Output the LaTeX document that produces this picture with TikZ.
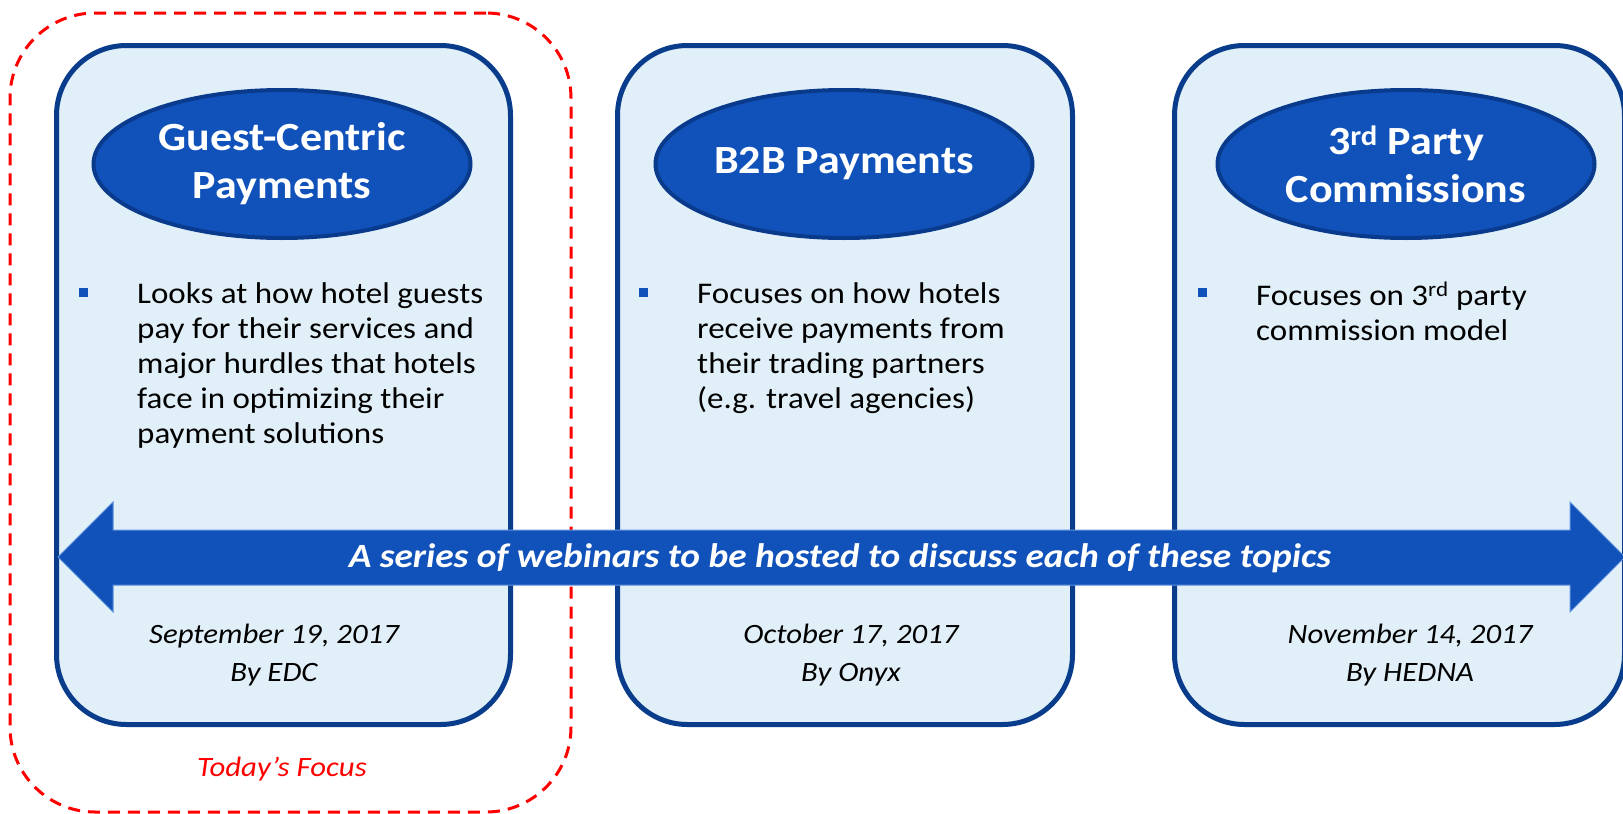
\documentclass[tikz,border=0pt]{standalone}
\usepackage{fontspec}
\setmainfont{Carlito}[FakeStretch=1.1]
\usetikzlibrary{shapes.geometric}
\definecolor{panelfill}{RGB}{225,239,248}
\definecolor{panelline}{RGB}{9,61,140}
\definecolor{ovalfill}{RGB}{16,82,186}
\definecolor{ovalline}{RGB}{10,58,140}
\definecolor{arrowedge}{RGB}{96,146,220}
\begin{document}
\begin{tikzpicture}[x=1pt,y=-1pt,
  panel/.style={draw=panelline, line width=5pt, fill=panelfill, rounded corners=70pt,
    anchor=north west, inner sep=0pt},
  oval/.style={ellipse, draw=ovalline, line width=4pt, fill=ovalfill,
    minimum width=377pt, minimum height=148pt, inner sep=0pt, text=white,
    align=center, font=\bfseries\fontsize{40}{48}\selectfont},
  bulletmark/.style={fill=ovalfill, minimum size=9pt, inner sep=0pt},
  body/.style={anchor=north west, inner sep=0pt, align=left,
    font=\fontsize{30}{35}\selectfont},
  datetext/.style={anchor=north, inner sep=0pt, align=center,
    font=\itshape\fontsize{28}{38}\selectfont},
]
\useasboundingbox (0,0) rectangle (1623,814);

% highlight around the first session
\node[draw=red, line width=3pt, dash pattern=on 12pt off 8pt, rounded corners=85pt,
  minimum width=561pt, minimum height=799pt, inner sep=0pt] (focus) at (290.5,412.5) {};
\node[font=\itshape\fontsize{28}{34}\selectfont, text=red, anchor=base] (focuslabel)
  at (282,776) {Today’s Focus};

% three session panels
\node[panel, minimum width=454pt, minimum height=679pt] (p1) at (54,43) {};
\node[panel, minimum width=455pt, minimum height=679pt] (p2) at (615,43) {};
\node[panel, minimum width=450pt, minimum height=679pt] (p3) at (1172,43) {};

% panel titles
\node[oval] (t1) at (282,164) {Guest-Centric\\Payments};
\node[oval] (t2) at (844,164) {B2B Payments};
\node[oval] (t3) at (1406,164) {3\textsuperscript{rd} Party\\Commissions};

% descriptions
\node[bulletmark] (b1) at (83,292) {};
\node[body] (d1) at (137,282) {Looks at how hotel guests\\pay for their services and\\major hurdles that hotels\\face in optimizing their\\payment solutions};
\node[bulletmark] (b2) at (643,292) {};
\node[body] (d2) at (697,282) {Focuses on how hotels\\receive payments from\\their trading partners\\(e.g. travel agencies)};
\node[bulletmark] (b3) at (1202,292) {};
\node[body] (d3) at (1256,282) {Focuses on 3\textsuperscript{rd} party\\commission model};

% double-headed arrow across the panels
\draw[fill=ovalfill, draw=arrowedge, line width=1pt]
  (58,557) -- (113,502) -- (113,530) -- (1570,530) -- (1570,502) -- (1625,557)
  -- (1570,612) -- (1570,585) -- (113,585) -- (113,612) -- cycle;
\node[text=white, font=\bfseries\itshape\fontsize{34}{40}\selectfont, anchor=base]
  (series) at (840,567) {A series of webinars to be hosted to discuss each of these topics};

% dates and hosts
\node[datetext] (w1) at (274,624) {September 19, 2017\\By EDC};
\node[datetext] (w2) at (851,624) {October 17, 2017\\By Onyx};
\node[datetext] (w3) at (1410,624) {November 14, 2017\\By HEDNA};
\end{tikzpicture}
\end{document}
